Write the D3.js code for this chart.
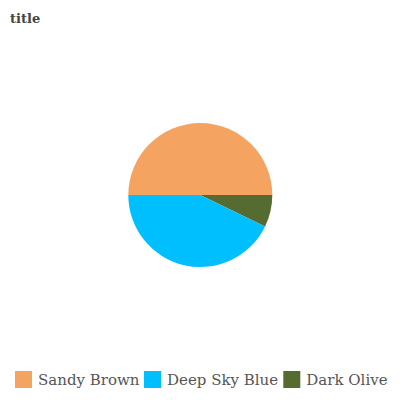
<!DOCTYPE html>
<html><head><meta charset="utf-8">
<script src="https://cdn.jsdelivr.net/npm/d3@7"></script>
<style>body{margin:0;background:#fff;}svg{display:block;}</style>
</head><body>
<script>
const categories = ["Sandy Brown", "Dark Olive", "Deep Sky Blue"];
const values = [50, 7.2, 42.8];
const colors = ["#f4a460", "#556b2f", "#00bfff"];
const legendOrder = ["Sandy Brown", "Deep Sky Blue", "Dark Olive"];

const W = 400, H = 400;
const svg = d3.select("body").append("svg").attr("width", W).attr("height", H);

svg.append("text").attr("x", 10).attr("y", 22.5)
  .attr("font-family", "DejaVu Serif").attr("font-weight", "bold")
  .attr("font-size", 13).attr("fill", "#444").text("title");

const color = d3.scaleOrdinal().domain(categories).range(colors);
const pie = d3.pie().sort(null).startAngle(-Math.PI/2).endAngle(1.5*Math.PI);
const arc = d3.arc().innerRadius(0).outerRadius(72);
const data = categories.map((c,i)=>({c, v: values[i]}));
const g = svg.append("g").attr("transform", "translate(200.3,195)");
g.selectAll("path").data(pie.value(d=>d.v)(data)).join("path")
  .attr("d", arc).attr("fill", d=>color(d.data.c));

const legendX = [15, 144, 283.3];
const lg = svg.append("g");
legendOrder.forEach((c,i)=>{
  lg.append("rect").attr("x", legendX[i]).attr("y", 371).attr("width", 17).attr("height", 17).attr("fill", color(c));
  lg.append("text").attr("x", legendX[i]+23).attr("y", 385)
    .attr("font-family", "DejaVu Serif").attr("font-size", 15).attr("fill", "#555").text(c);
});
</script>
</body></html>
